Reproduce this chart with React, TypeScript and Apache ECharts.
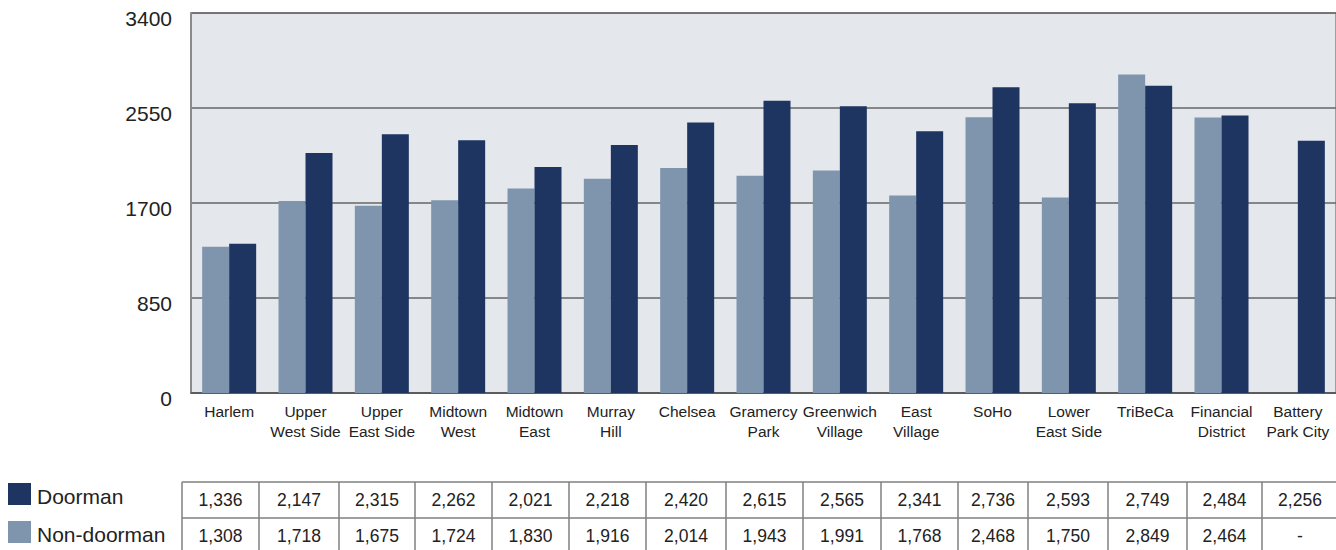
import React, { useEffect, useRef } from "react";
import * as echarts from "echarts";

const categories = [
  "Harlem",
  "Upper\nWest Side",
  "Upper\nEast Side",
  "Midtown\nWest",
  "Midtown\nEast",
  "Murray\nHill",
  "Chelsea",
  "Gramercy\nPark",
  "Greenwich\nVillage",
  "East\nVillage",
  "SoHo",
  "Lower\nEast Side",
  "TriBeCa",
  "Financial\nDistrict",
  "Battery\nPark City",
];
const doorman = [1336, 2147, 2315, 2262, 2021, 2218, 2420, 2615, 2565, 2341, 2736, 2593, 2749, 2484, 2256];
const nonDoorman: (number | null)[] = [1308, 1718, 1675, 1724, 1830, 1916, 2014, 1943, 1991, 1768, 2468, 1750, 2849, 2464, null];
const yTicks = [0, 850, 1700, 2550, 3400];
const seriesNames = ["Doorman", "Non-doorman"];

const DARK = "#1e3561";
const LIGHT = "#7f95ad";
const FONT = "'Liberation Sans', Arial, sans-serif";

// table layout (pixel positions of column edges / row edges)
const colEdges = [182, 259, 339, 415, 492, 569, 646, 726, 803, 881, 958, 1028, 1108, 1187, 1262, 1338];
const rowEdges = [482, 518, 554];
const legendSwatchY = [483, 521];
const legendTextY = [496, 534];

const fmt = (v: number | null) => (v == null ? "-" : v.toLocaleString("en-US"));

export default function App() {
  const ref = useRef<HTMLDivElement>(null);
  useEffect(() => {
    if (!ref.current) return;
    const chart = echarts.init(ref.current, null, { renderer: "svg" });

    const graphics: any[] = [];
    const lineStyle = { stroke: "#808080", lineWidth: 1.5 };
    rowEdges.forEach((y) => {
      graphics.push({ type: "line", shape: { x1: colEdges[0], y1: y, x2: colEdges[colEdges.length - 1], y2: y }, style: lineStyle });
    });
    colEdges.forEach((x) => {
      graphics.push({ type: "line", shape: { x1: x, y1: rowEdges[0], x2: x, y2: rowEdges[2] }, style: lineStyle });
    });
    const rows = [doorman, nonDoorman];
    const rowColors = [DARK, LIGHT];
    rows.forEach((row, r) => {
      graphics.push({
        type: "rect",
        shape: { x: 8, y: legendSwatchY[r], width: 23, height: 22 },
        style: { fill: rowColors[r] },
      });
      graphics.push({
        type: "text",
        x: 37,
        y: legendTextY[r],
        style: {
          text: seriesNames[r],
          fill: "#222",
          font: `21px ${FONT}`,
          align: "left",
          verticalAlign: "middle",
        },
      });
      row.forEach((v, i) => {
        graphics.push({
          type: "text",
          x: (colEdges[i] + colEdges[i + 1]) / 2,
          y: (rowEdges[r] + rowEdges[r + 1]) / 2,
          style: {
            text: fmt(v as number | null),
            fill: "#222",
            font: `17.5px ${FONT}`,
            align: "center",
            verticalAlign: "middle",
          },
        });
      });
    });

    chart.setOption({
      animation: false,
      backgroundColor: "#fff",
      grid: {
        left: 191,
        top: 13,
        width: 1146,
        height: 380,
        show: true,
        backgroundColor: "#e4e7ec",
        borderColor: "#555",
        borderWidth: 1,
        containLabel: false,
      },
      xAxis: {
        type: "category",
        data: categories,
        axisLine: { show: true, lineStyle: { color: "#555", width: 1.5 } },
        axisTick: { show: false },
        axisLabel: {
          interval: 0,
          margin: 8,
          fontSize: 15.5,
          lineHeight: 20,
          color: "#222",
          fontFamily: FONT,
        },
      },
      yAxis: {
        type: "value",
        min: yTicks[0],
        max: yTicks[yTicks.length - 1],
        interval: 850,
        axisLine: { show: true, lineStyle: { color: "#8a8a8a", width: 2 } },
        axisTick: { show: false },
        splitLine: { show: true, lineStyle: { color: "#666", width: 1.5 } },
        axisLabel: {
          margin: 19,
          formatter: (v: number) => `{a|${v}}`,
          rich: {
            a: {
              fontSize: 21,
              color: "#222",
              fontFamily: FONT,
              padding: [10, 0, 0, 0],
            },
          },
        },
      },
      series: [
        {
          name: seriesNames[1],
          type: "bar",
          data: nonDoorman,
          barWidth: 27,
          barGap: "0%",
          itemStyle: { color: LIGHT },
          z: 3,
        },
        {
          name: seriesNames[0],
          type: "bar",
          data: doorman,
          barWidth: 27,
          barGap: "0%",
          itemStyle: { color: DARK },
          z: 3,
        },
      ],
      graphic: graphics,
    });
    return () => chart.dispose();
  }, []);
  return (
    <div
      ref={ref}
      style={{ position: "absolute", left: 0, top: 0, width: 1336, height: 550 }}
    />
  );
}
